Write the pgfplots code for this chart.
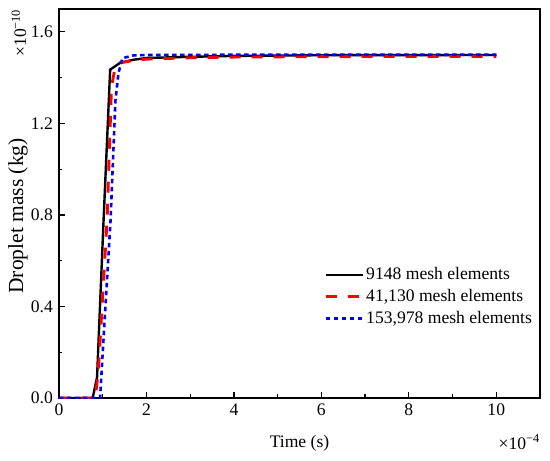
\documentclass[border=0pt]{standalone}
\usepackage{pgfplots}
\pgfplotsset{compat=1.18}
\usepackage{fontspec}
\setmainfont{Liberation Serif}
\begin{document}
\fontsize{17.6bp}{21bp}\selectfont
\begin{tikzpicture}
\begin{axis}[
  name=ax,
  scale only axis,
  width=481bp, height=389bp,
  xmin=0, xmax=11, ymin=0, ymax=1.7,
  xtick={0,2,4,6,8,10},
  minor xtick={1,3,5,7,9},
  ytick={0,0.4,0.8,1.2,1.6},
  minor ytick={0.2,0.6,1.0,1.4},
  yticklabel style={/pgf/number format/.cd,fixed,fixed zerofill,precision=1},
  /pgf/number format/assume math mode=true,
  xtick pos=left, ytick pos=left,
  tick align=inside,
  major tick length=6bp, minor tick length=3.5bp,
  every tick/.style={black, line width=1.2bp},
  axis line style={line width=1.4bp},
  tick label style={font=\fontsize{17.6bp}{21bp}\selectfont},
  label style={font=\fontsize{17.6bp}{21bp}\selectfont},
  xlabel={Time (s)},
  ylabel={Droplet mass (kg)},
  xlabel style={at={(axis description cs:0.5,0)}, anchor=center, yshift=-45bp},
  ylabel style={at={(axis description cs:-0.085,0.468)}, anchor=center, font=\fontsize{21.5bp}{24bp}\selectfont},
  legend style={draw=none, fill=none, at={(axis description cs:0.545,0.26)}, anchor=west,
    font=\fontsize{17.6bp}{21bp}\selectfont, cells={anchor=west}, row sep=3bp},
  legend image code/.code={\draw[#1] (0bp,0bp) -- (37bp,0bp);},
  clip=true,
]
\addplot[black, line width=2.4bp] coordinates {
 (0,0) (0.77,0) (0.87,0.09) (1.02,0.78) (1.17,1.435) (1.4,1.465) (1.7,1.478) (2,1.486) (3,1.491) (4,1.495) (6,1.498) (10,1.499)
};
\addlegendentry{9148 mesh elements}
\addplot[red, line width=2.9bp, dash pattern=on 11bp off 11bp] coordinates {
 (0,0) (0.83,0) (0.90,0.12) (1.10,0.78) (1.2,1.36) (1.28,1.44) (1.4,1.465) (1.7,1.475) (2,1.481) (3,1.487) (4,1.490) (6,1.492) (10,1.493)
};
\addlegendentry{41,130 mesh elements}
\addplot[blue, line width=2.6bp, dash pattern=on 4.5bp off 3.5bp] coordinates {
 (0,0) (0.94,0) (1.0,0.2) (1.18,0.78) (1.29,1.30) (1.36,1.42) (1.45,1.485) (1.7,1.497) (2,1.499) (4,1.5) (10,1.5)
};
\addlegendentry{153,978 mesh elements}
\end{axis}
\node[rotate=90, anchor=center, font=\fontsize{17.6bp}{21bp}\selectfont] at ([xshift=-40bp,yshift=-24bp]ax.north west) {×10\textsuperscript{−10}};
\node[anchor=east, font=\fontsize{17.6bp}{21bp}\selectfont, inner sep=0pt] at ([yshift=-44bp]ax.south east) {×10\textsuperscript{−4}};
\pgfresetboundingbox
\path ([xshift=-59bp,yshift=-63bp]ax.south west) rectangle ([xshift=10bp,yshift=9bp]ax.north east);
\end{tikzpicture}
\end{document}
